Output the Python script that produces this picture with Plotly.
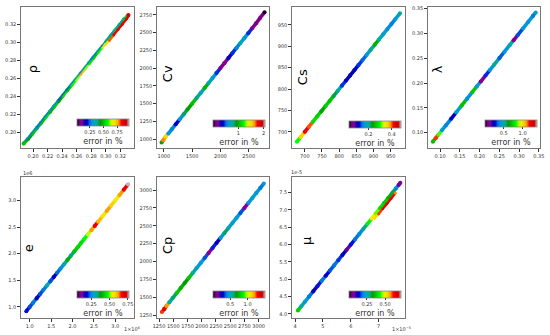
import plotly.graph_objects as go
from plotly.colors import sample_colorscale

# ---------------- data (true value, predicted value, error in %) ----------------
rho_true = [0.187, 0.193, 0.199, 0.205, 0.211, 0.217, 0.223, 0.229, 0.235, 0.241, 0.247, 0.253, 0.259,
            0.265, 0.271, 0.277, 0.283, 0.289, 0.295, 0.301, 0.307, 0.313, 0.319, 0.325, 0.331]
rho_pred = [0.188, 0.193, 0.199, 0.205, 0.211, 0.217, 0.223, 0.229, 0.235, 0.241, 0.247, 0.253, 0.259,
            0.265, 0.271, 0.277, 0.283, 0.289, 0.295, 0.301, 0.307, 0.313, 0.319, 0.325, 0.330]
rho_err = [0.50, 0.45, 0.52, 0.40, 0.50, 0.55, 0.48, 0.52, 0.45, 0.55, 0.50, 0.58, 0.62,
           0.75, 0.62, 0.55, 0.52, 0.58, 0.68, 0.55, 0.52, 0.55, 0.50, 0.55, 0.85]
rho_hi_true = [0.190, 0.205, 0.220, 0.235, 0.250, 0.265, 0.280, 0.295, 0.310, 0.325]
rho_hi_pred = [0.1915, 0.2065, 0.2215, 0.2365, 0.2515, 0.2665, 0.2815, 0.2965, 0.3115, 0.3265]
rho_hi_err = [0.27, 0.25, 0.28, 0.24, 0.27, 0.28, 0.25, 0.28, 0.30, 0.35]
rho_lo_true = [0.299, 0.305, 0.311, 0.317, 0.323, 0.329, 0.332]
rho_lo_pred = [0.297, 0.302, 0.308, 0.314, 0.320, 0.326, 0.330]
rho_lo_err = [0.70, 0.80, 0.85, 0.86, 0.85, 0.87, 0.90]

cv_true = [960, 990, 1030, 1080, 1140, 1210, 1280, 1350, 1420, 1500, 1580, 1650, 1720, 1790,
           1860, 1930, 2000, 2070, 2140, 2210, 2280, 2350, 2420, 2490, 2560, 2630, 2700, 2780]
cv_pred = [955, 985, 1035, 1080, 1140, 1210, 1280, 1350, 1420, 1500, 1580, 1650, 1720, 1790,
           1860, 1930, 2000, 2070, 2140, 2210, 2280, 2350, 2420, 2490, 2560, 2630, 2705, 2785]
cv_err = [0.90, 1.65, 1.50, 0.60, 0.55, 0.35, 0.60, 0.85, 0.95, 1.05, 0.80, 0.70, 1.00, 0.70,
          0.62, 0.45, 0.15, 0.20, 0.35, 0.45, 0.55, 0.68, 0.60, 0.45, 0.15, 0.12, 0.15, 0.02]

cs_true = [677, 688, 700, 712, 724, 736, 748, 760, 772, 784, 796, 808, 820, 832, 844, 856, 868,
           880, 892, 904, 916, 928, 940, 952, 964, 977]
cs_pred = [677, 688, 700, 712, 724, 736, 748, 760, 772, 784, 796, 808, 820, 832, 844, 856, 868,
           880, 892, 904, 916, 928, 940, 952, 964, 977]
cs_err = [0.30, 0.36, 0.42, 0.40, 0.28, 0.27, 0.24, 0.27, 0.26, 0.22, 0.19, 0.13, 0.11, 0.10,
          0.11, 0.13, 0.14, 0.17, 0.20, 0.25, 0.19, 0.17, 0.16, 0.15, 0.17, 0.20]

lam_true = [0.082, 0.089, 0.096, 0.105, 0.115, 0.128, 0.141, 0.155, 0.168, 0.182, 0.193, 0.203,
            0.215, 0.226, 0.237, 0.250, 0.263, 0.276, 0.286, 0.296, 0.310, 0.323, 0.335, 0.342]
lam_pred = [0.082, 0.089, 0.096, 0.105, 0.115, 0.128, 0.141, 0.155, 0.168, 0.182, 0.193, 0.203,
            0.215, 0.226, 0.237, 0.250, 0.263, 0.276, 0.286, 0.296, 0.310, 0.323, 0.335, 0.342]
lam_err = [0.70, 1.15, 0.85, 0.42, 0.38, 0.25, 0.45, 0.70, 0.40, 0.72, 0.42, 0.12,
           0.30, 0.42, 0.52, 0.33, 0.42, 0.48, 0.10, 0.32, 0.42, 0.42, 0.36, 0.45]

# internal energy, in units of 1e6
e_true = [0.92, 1.00, 1.08, 1.16, 1.24, 1.32, 1.40, 1.48, 1.56, 1.64, 1.72, 1.80, 1.88, 1.96, 2.04,
          2.12, 2.20, 2.28, 2.36, 2.44, 2.52, 2.60, 2.70, 2.80, 2.90, 3.00, 3.10, 3.20, 3.30]
e_pred = [0.92, 1.00, 1.08, 1.16, 1.24, 1.32, 1.40, 1.48, 1.56, 1.64, 1.72, 1.80, 1.88, 1.96, 2.04,
          2.12, 2.20, 2.28, 2.36, 2.44, 2.52, 2.60, 2.70, 2.80, 2.90, 3.00, 3.10, 3.20, 3.30]
e_err = [0.20, 0.22, 0.24, 0.18, 0.22, 0.24, 0.30, 0.22, 0.18, 0.23, 0.26, 0.30, 0.40, 0.34, 0.42,
         0.44, 0.45, 0.48, 0.52, 0.62, 0.68, 0.60, 0.56, 0.62, 0.58, 0.55, 0.62, 0.68, 0.76]

cp_true = [1300, 1340, 1380, 1430, 1490, 1560, 1630, 1700, 1770, 1840, 1910, 1980, 2050, 2120,
           2190, 2260, 2330, 2400, 2470, 2540, 2610, 2680, 2750, 2820, 2890, 2960, 3030, 3090]
cp_pred = [1295, 1335, 1380, 1430, 1490, 1560, 1630, 1700, 1770, 1840, 1910, 1980, 2050, 2120,
           2190, 2260, 2330, 2400, 2470, 2540, 2610, 2680, 2750, 2820, 2890, 2960, 3030, 3090]
cp_err = [1.25, 1.35, 1.20, 0.55, 0.62, 0.78, 0.72, 0.68, 0.78, 0.55, 0.48, 0.45, 0.35, 0.15,
          0.32, 0.25, 0.45, 0.62, 0.48, 0.48, 0.45, 0.35, 0.15, 0.45, 0.48, 0.45, 0.38, 0.45]

# viscosity, in units of 1e-5
mu_true = [4.10, 4.22, 4.35, 4.50, 4.65, 4.80, 4.95, 5.10, 5.25, 5.40, 5.55, 5.70, 5.85, 6.00,
           6.15, 6.30, 6.45, 6.60, 6.75, 6.90, 7.05, 7.20, 7.35, 7.50, 7.62, 7.72, 7.78]
mu_pred = [4.10, 4.22, 4.35, 4.50, 4.65, 4.80, 4.95, 5.10, 5.25, 5.40, 5.55, 5.70, 5.85, 6.00,
           6.15, 6.30, 6.45, 6.60, 6.75, 6.90, 7.05, 7.20, 7.35, 7.50, 7.62, 7.72, 7.78]
mu_err = [0.38, 0.25, 0.22, 0.18, 0.12, 0.15, 0.18, 0.14, 0.17, 0.18, 0.16, 0.12, 0.08, 0.15,
          0.18, 0.20, 0.28, 0.42, 0.50, 0.45, 0.40, 0.38, 0.35, 0.30, 0.20, 0.08, 0.05]
mu_lo_true = [6.85, 7.00, 7.15, 7.30, 7.45, 7.60]
mu_lo_pred = [6.75, 6.88, 7.03, 7.18, 7.33, 7.48]
mu_lo_err = [0.52, 0.60, 0.64, 0.64, 0.62, 0.58]

# tick labels
rho_ticks = [0.20, 0.22, 0.24, 0.26, 0.28, 0.30, 0.32]
cv_xticks = [1000, 1500, 2000, 2500]
cv_yticks = [1000, 1250, 1500, 1750, 2000, 2250, 2500, 2750]
cs_ticks = [700, 750, 800, 850, 900, 950]
lam_ticks = [0.10, 0.15, 0.20, 0.25, 0.30, 0.35]
e_ticks = [1.0, 1.5, 2.0, 2.5, 3.0]
cp_ticks = [1250, 1500, 1750, 2000, 2250, 2500, 2750, 3000]
mu_xticks = [4, 5, 6, 7]
mu_yticks = [4.0, 4.5, 5.0, 5.5, 6.0, 6.5, 7.0, 7.5]

# ---------------- style ----------------
NIPY = [
    [0.00, 'rgb(0,0,0)'], [0.05, 'rgb(119,0,136)'], [0.10, 'rgb(136,0,153)'],
    [0.15, 'rgb(0,0,170)'], [0.20, 'rgb(0,0,221)'], [0.25, 'rgb(0,119,221)'],
    [0.30, 'rgb(0,153,221)'], [0.35, 'rgb(0,170,170)'], [0.40, 'rgb(0,170,136)'],
    [0.45, 'rgb(0,153,0)'], [0.50, 'rgb(0,187,0)'], [0.55, 'rgb(0,221,0)'],
    [0.60, 'rgb(0,255,0)'], [0.65, 'rgb(187,255,0)'], [0.70, 'rgb(238,238,0)'],
    [0.75, 'rgb(255,204,0)'], [0.80, 'rgb(255,153,0)'], [0.85, 'rgb(255,0,0)'],
    [0.90, 'rgb(221,0,0)'], [0.95, 'rgb(204,0,0)'], [1.00, 'rgb(204,204,204)'],
]

W, H = 550, 335
COLS = [(17, 132), (155, 269), (292, 407), (430, 544)]
ROWS = [(5, 147), (176, 318)]
FONT = 'DejaVu Sans'
AX = '#777777'
TK = '#333333'

panels = [
    dict(lab='ρ', col=0, row=0, rng=[0.183, 0.339], xt=rho_ticks, yt=rho_ticks, xf='{:.2f}', yf='{:.2f}',
         series=[(rho_true, rho_pred, rho_err, 3.6, True), (rho_hi_true, rho_hi_pred, rho_hi_err, 1.4, False),
                 (rho_lo_true, rho_lo_pred, rho_lo_err, 2.4, False)],
         cr=[0.01, 0.97], cbt=[0.25, 0.50, 0.75], cbf='{:.2f}', cb=(74, 118), lp=(29, 68)),
    dict(lab='Cv', col=1, row=0, rng=[875, 2860], xt=cv_xticks, yt=cv_yticks, xf='{:d}', yf='{:d}',
         series=[(cv_true, cv_pred, cv_err, 3.6, True)],
         cr=[0.0, 2.05], cbt=[1, 2], cbf='{:d}', cb=(212, 119), lp=(166, 72)),
    dict(lab='Cs', col=2, row=0, rng=[662, 992], xt=cs_ticks, yt=cs_ticks, xf='{:d}', yf='{:d}',
         series=[(cs_true, cs_pred, cs_err, 3.6, True)],
         cr=[0.03, 0.48], cbt=[0.2, 0.4], cbf='{:.1f}', cb=(350, 120), lp=(303, 76)),
    dict(lab='λ', col=3, row=0, rng=[0.069, 0.353], xt=lam_ticks, yt=lam_ticks, xf='{:.2f}', yf='{:.2f}',
         series=[(lam_true, lam_pred, lam_err, 3.6, True)],
         cr=[0.0, 1.38], cbt=[0.5, 1.0], cbf='{:.1f}', cb=(488, 119), lp=(440, 68)),
    dict(lab='e', col=0, row=1, rng=[0.79, 3.44], xt=e_ticks, yt=e_ticks, xf='{:.1f}', yf='{:.1f}',
         series=[(e_true, e_pred, e_err, 3.6, True)],
         cr=[0.055, 0.765], cbt=[0.25, 0.50, 0.75], cbf='{:.2f}', cb=(74, 291), lp=(25, 248)),
    dict(lab='Cp', col=1, row=1, rng=[1210, 3183], xt=cp_ticks, yt=cp_ticks, xf='{:d}', yf='{:d}',
         series=[(cp_true, cp_pred, cp_err, 3.6, True)],
         cr=[0.0, 1.5], cbt=[0.5, 1.0], cbf='{:.1f}', cb=(212, 291), lp=(166, 245)),
    dict(lab='μ', col=2, row=1, rng=[3.88, 7.95], xt=mu_xticks, yt=mu_yticks, xf='{:d}', yf='{:.1f}',
         series=[(mu_true, mu_pred, mu_err, 3.6, True), (mu_lo_true, mu_lo_pred, mu_lo_err, 2.4, False)],
         cr=[0.0, 0.72], cbt=[0.25, 0.50], cbf='{:.2f}', cb=(350, 291), lp=(307, 241)),
]

fig = go.Figure()
layout = dict(width=W, height=H, margin=dict(l=0, r=0, t=0, b=0), paper_bgcolor='white',
              plot_bgcolor='white', showlegend=False, font=dict(family=FONT, color=TK))
annotations = []

for i, p in enumerate(panels):
    n = i + 1
    xa = 'x' if n == 1 else f'x{n}'
    ya = 'y' if n == 1 else f'y{n}'
    c0, c1 = COLS[p['col']]
    r0, r1 = ROWS[p['row']]
    cmin, cmax = p['cr']
    common = dict(range=p['rng'], showgrid=False, zeroline=False, showline=True, mirror=True,
                  linecolor=AX, linewidth=1, ticks='outside', ticklen=2.5, tickwidth=0.8,
                  tickcolor=TK, tickangle=0, tickfont=dict(size=5, family=FONT, color=TK))
    layout['xaxis' if n == 1 else f'xaxis{n}'] = dict(
        common, domain=[c0 / W, c1 / W], anchor=ya,
        tickvals=p['xt'], ticktext=[p['xf'].format(v) for v in p['xt']])
    layout['yaxis' if n == 1 else f'yaxis{n}'] = dict(
        common, domain=[1 - r1 / H, 1 - r0 / H], anchor=xa,
        tickvals=p['yt'], ticktext=[p['yf'].format(v) for v in p['yt']])

    for (xs, ys, es, w, main) in p['series']:
        # coloured band: one short segment per pair of neighbouring samples
        for k in range(len(xs) - 1):
            t = min(max((es[k] - cmin) / (cmax - cmin), 0), 1)
            col = sample_colorscale(NIPY, [t])[0]
            fig.add_trace(go.Scatter(x=[xs[k], xs[k + 1]], y=[ys[k], ys[k + 1]], mode='lines',
                                     line=dict(color=col, width=w), xaxis=xa, yaxis=ya,
                                     hoverinfo='skip'))
        mk = dict(color=es, colorscale=NIPY, cmin=cmin, cmax=cmax, size=w + 0.5, line=dict(width=0))
        if main:
            bx, by = p['cb']
            mk.update(showscale=True, colorbar=dict(
                orientation='h', x=bx / W, xanchor='left', y=1 - by / H, yanchor='top',
                len=52, lenmode='pixels', thickness=7, thicknessmode='pixels', xpad=0, ypad=0,
                outlinewidth=0.8, outlinecolor='#888888', ticks='outside', ticklen=2,
                tickwidth=0.6, tickcolor=TK, tickvals=p['cbt'],
                ticktext=[p['cbf'].format(v) for v in p['cbt']],
                tickfont=dict(size=5, family=FONT, color=TK),
                title=dict(text='error in %', side='bottom', font=dict(size=8, family=FONT, color=TK))))
        fig.add_trace(go.Scatter(x=xs, y=ys, mode='markers', marker=mk, xaxis=xa, yaxis=ya))

    lx, ly = p['lp']
    annotations.append(dict(text=p['lab'], x=lx / W, y=1 - ly / H, xref='paper', yref='paper',
                            xanchor='center', yanchor='middle', textangle=-90, showarrow=False,
                            font=dict(size=13, family=FONT, color='black')))

for txt, px, py in [('1e6', 24, 172), ('1×10<sup>6</sup>', 130, 329),
                    ('1e-5', 297, 171), ('1×10<sup>−5</sup>', 403, 329)]:
    annotations.append(dict(text=txt, x=px / W, y=1 - py / H, xref='paper', yref='paper',
                            xanchor='center', yanchor='middle', showarrow=False,
                            font=dict(size=5, family=FONT, color=TK)))

layout['annotations'] = annotations
fig.update_layout(**layout)
fig.write_html('out.html', config={'displayModeBar': False},
               post_script="document.body.style.margin='0';document.body.style.padding='0';")
